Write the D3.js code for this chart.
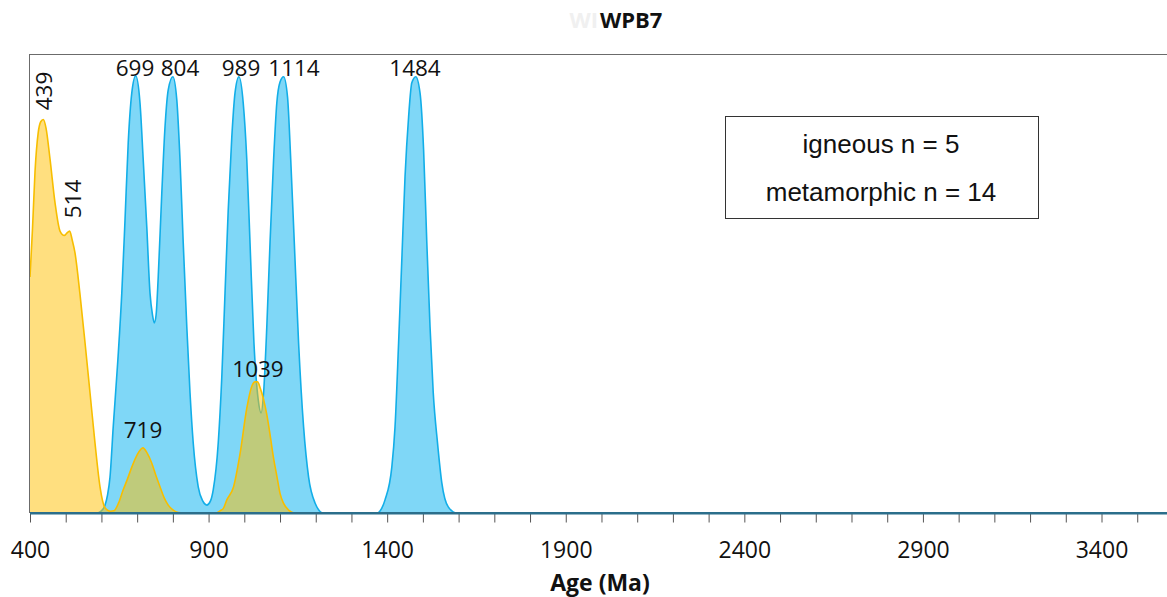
<!DOCTYPE html>
<html>
<head>
<meta charset="utf-8">
<script src="https://cdn.jsdelivr.net/npm/d3@7"></script>
<style>
  html, body { margin: 0; padding: 0; background: #fff; }
  svg { display: block; }
</style>
</head>
<body>
<svg id="chart" width="1167" height="597"></svg>
<script>
// ---- Data ----
const title = "WPB7";
const xLabel = "Age (Ma)";
const legendLines = ["igneous n = 5", "metamorphic n = 14"];
const tickValues = d3.range(400, 4001, 100);
const tickLabels = [400, 900, 1400, 1900, 2400, 2900, 3400];

// igneous relative probability: [age, value]
const igneousAges = [400,407,414,423,430,437,445,456,470,484,496,503,511,518,526,540,554,568,582,596,610,625,635,648,661,673,685,700,716,728,741,752,764,776,787,800,815,830,920,932,941,951,970,988,1007,1021,1030,1037,1045,1054,1063,1072,1082,1091,1100,1110,1125,1140,4000];
const igneousValues = [0.54,0.65,0.78,0.87,0.895,0.90,0.88,0.81,0.71,0.645,0.635,0.64,0.645,0.625,0.595,0.50,0.39,0.275,0.16,0.06,0.012,0.004,0.005,0.023,0.053,0.078,0.105,0.133,0.149,0.137,0.114,0.087,0.06,0.034,0.018,0.007,0.001,0,0,0.005,0.01,0.03,0.06,0.135,0.24,0.29,0.30,0.30,0.285,0.26,0.225,0.18,0.125,0.085,0.045,0.022,0.006,0,0];

// metamorphic relative probability: [age, value]
const metamorphicAges = [400,587,600,610,617,624,633,646,657,666,675,685,696,708,717,727,736,743,748,753,759,769,778,787,800,811,820,829,839,848,857,871,884,895,905,913,927,937,946,955,965,974,985,997,1007,1016,1027,1039,1047,1054,1063,1072,1082,1091,1100,1110,1121,1130,1140,1152,1166,1180,1198,1221,1371,1385,1394,1413,1422,1432,1441,1450,1460,1469,1480,1492,1502,1511,1520,1529,1541,1553,1571,1595,4000];
const metamorphicValues = [0,0,0.005,0.018,0.041,0.082,0.197,0.35,0.503,0.67,0.847,0.961,1.0,0.938,0.808,0.654,0.503,0.453,0.435,0.453,0.54,0.732,0.883,0.968,0.998,0.945,0.808,0.618,0.426,0.275,0.16,0.06,0.027,0.018,0.027,0.053,0.16,0.311,0.503,0.693,0.86,0.961,0.998,0.938,0.808,0.618,0.389,0.259,0.229,0.275,0.426,0.618,0.808,0.938,0.986,0.998,0.952,0.808,0.618,0.389,0.197,0.082,0.023,0,0,0.011,0.03,0.105,0.197,0.389,0.579,0.769,0.906,0.984,0.998,0.961,0.831,0.618,0.426,0.275,0.16,0.069,0.014,0,0];

// peak labels
const peakLabels = ["699","804","989","1114","1484","719","1039"];
const rotLabels = ["439","514"];

// ---- Layout ----
const svg = d3.select("#chart");
const W = 1167, H = 597;
const mLeft = 30, mBottom = 513, mTop = 54;
const x = d3.scaleLinear().domain([400, 4000]).range([mLeft, mLeft + 3600 * 0.35717]);
const y = d3.scaleLinear().domain([0, 1.05]).range([mBottom, mTop]);

const font = "'Open Sans', Lato, sans-serif";

const igneous = igneousAges.map((a, i) => [a, igneousValues[i]]);
const metamorphic = metamorphicAges.map((a, i) => [a, metamorphicValues[i]]);

svg.append("defs").append("clipPath").attr("id", "clip")
  .append("rect").attr("x", mLeft).attr("y", mTop - 2).attr("width", W - mLeft).attr("height", mBottom - mTop + 3);

// frame (left + top)
svg.append("line").attr("x1", mLeft - 0.5).attr("x2", mLeft - 0.5).attr("y1", mTop).attr("y2", mBottom)
  .attr("stroke", "#6b6b6b").attr("stroke-width", 1);
svg.append("line").attr("x1", mLeft - 0.5).attr("x2", W).attr("y1", mTop + 0.5).attr("y2", mTop + 0.5)
  .attr("stroke", "#6b6b6b").attr("stroke-width", 1);

const area = d3.area().x(d => x(d[0])).y0(y(0)).y1(d => y(d[1])).curve(d3.curveMonotoneX);
const line = d3.line().x(d => x(d[0])).y(d => y(d[1])).curve(d3.curveMonotoneX);

const g = svg.append("g").attr("clip-path", "url(#clip)");
g.append("path").datum(metamorphic).attr("d", area).attr("fill", "rgba(0,176,240,0.5)");
g.append("path").datum(metamorphic).attr("d", line).attr("fill", "none").attr("stroke", "#12aee8").attr("stroke-width", 1.6);
g.append("path").datum(igneous).attr("d", area).attr("fill", "rgba(255,192,0,0.5)");
g.append("path").datum(igneous).attr("d", line).attr("fill", "none").attr("stroke", "#f7be00").attr("stroke-width", 1.6);

// x axis
const axis = d3.axisBottom(x).tickValues(tickValues).tickSize(9)
  .tickFormat(d => tickLabels.includes(d) ? String(d) : "");
const ax = svg.append("g").attr("transform", `translate(0,${mBottom + 0.5})`).call(axis);
ax.select(".domain").remove();
ax.selectAll(".tick line").attr("stroke", "#555").attr("stroke-width", 1);
ax.selectAll(".tick text").attr("font-family", font).attr("font-size", 23).attr("fill", "#111")
  .attr("y", 44).attr("dy", 0);
svg.append("line").attr("x1", mLeft).attr("x2", W).attr("y1", mBottom + 0.2).attr("y2", mBottom + 0.2)
  .attr("stroke", "#2b6e8b").attr("stroke-width", 2.4);

// x label
svg.append("text").attr("x", 600).attr("y", 591).attr("text-anchor", "middle")
  .attr("font-family", font).attr("font-weight", "bold").attr("font-size", 23).attr("fill", "#111").text(xLabel);

// title (with faint ghost text)
svg.append("text").attr("x", 598).attr("y", 28).attr("text-anchor", "end")
  .attr("font-family", font).attr("font-weight", "bold").attr("font-size", 22).attr("fill", "#f0f0f0").text("WI");
svg.append("text").attr("x", 600).attr("y", 28).attr("text-anchor", "start")
  .attr("font-family", font).attr("font-weight", "bold").attr("font-size", 22).attr("fill", "#111").text(title);

// peak labels
const labelPos = {"699": [135, 76], "804": [180, 76], "989": [241, 76], "1114": [294, 76], "1484": [415, 76], "719": [143, 438], "1039": [258, 377]};
peakLabels.forEach(t => {
  svg.append("text").attr("x", labelPos[t][0]).attr("y", labelPos[t][1])
    .attr("text-anchor", "middle").attr("font-family", font).attr("font-size", 22.5).attr("fill", "#111").text(t);
});
const rotPos = {"439": [52, 91], "514": [81, 199]};
rotLabels.forEach(t => {
  const p = rotPos[t];
  svg.append("text").attr("transform", `translate(${p[0]},${p[1]}) rotate(-90)`)
    .attr("text-anchor", "middle").attr("font-family", font).attr("font-size", 22.5).attr("fill", "#111").text(t);
});

// legend box
svg.append("rect").attr("x", 725.5).attr("y", 116.5).attr("width", 313).attr("height", 102)
  .attr("fill", "#fff").attr("stroke", "#333").attr("stroke-width", 1);
legendLines.forEach((t, i) => {
  svg.append("text").attr("x", 881).attr("y", 153 + i * 48).attr("text-anchor", "middle")
    .attr("font-family", "'Liberation Sans', Arial, sans-serif").attr("font-size", 26).attr("fill", "#111").text(t);
});
</script>
</body>
</html>
